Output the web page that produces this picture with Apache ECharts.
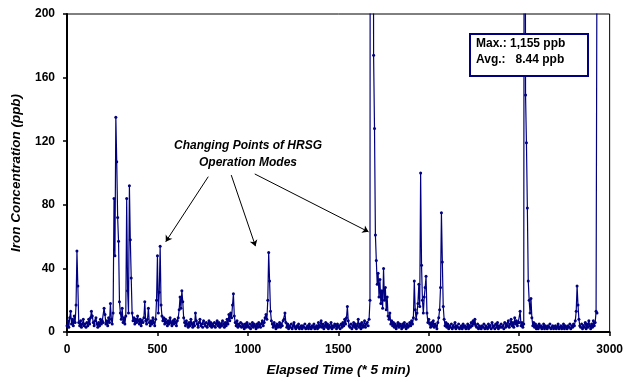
<!DOCTYPE html>
<html>
<head>
<meta charset="utf-8">
<script src="https://cdn.jsdelivr.net/npm/echarts@6/dist/echarts.min.js"></script>
<style>
  html, body { margin: 0; padding: 0; background: #fff; }
  #chart { width: 626px; height: 382px; }
</style>
</head>
<body>
<div id="chart"></div>
<script>
// sampling step of the series along the time axis (units of 5 min)
const timeStep = 5;

// iron concentration (ppb), one value every 5 steps
const ironPpb = [
    4, 7, 3, 9, 13, 5, 8, 4, 10, 6, 17, 51, 29, 6, 4, 7, 3, 5, 8, 4,
    5, 3, 6, 4, 8, 5, 9, 13, 10, 6, 4, 7, 9, 5, 3, 6, 4, 8, 5, 7,
    6, 15, 11, 5, 7, 4, 9, 6, 18, 8, 5, 12, 84, 48, 135, 107, 72, 57, 19, 12,
    8, 15, 6, 9, 5, 10, 84, 26, 12, 92, 58, 34, 12, 7, 9, 5, 8, 6, 10, 7,
    5, 8, 4, 7, 6, 9, 19, 7, 5, 8, 15, 6, 4, 7, 5, 9, 6, 4, 8, 20,
    48, 12, 25, 54, 17, 10, 7, 9, 5, 8, 6, 4, 7, 5, 9, 6, 4, 7, 5, 8,
    6, 4, 7, 9, 14, 22, 15, 26, 19, 9, 6, 4, 7, 5, 3, 6, 4, 8, 5, 3,
    6, 4, 12, 7, 5, 3, 6, 8, 4, 5, 3, 7, 5, 4, 6, 3, 5, 7, 4, 6,
    3, 5, 4, 6, 3, 5, 7, 4, 6, 3, 5, 4, 7, 5, 3, 6, 4, 8, 5, 11,
    7, 12, 9, 17, 24, 10, 6, 4, 7, 3, 5, 4, 6, 3, 5, 4, 2, 5, 3, 6,
    4, 3, 5, 2, 4, 6, 3, 5, 4, 2, 5, 3, 6, 4, 3, 5, 7, 4, 6, 9,
    11, 8, 20, 50, 32, 13, 7, 5, 3, 6, 4, 2, 5, 3, 4, 6, 3, 5, 4, 7,
    8, 12, 6, 3, 5, 2, 4, 3, 5, 2, 4, 6, 3, 2, 4, 3, 5, 2, 3, 4,
    2, 4, 3, 5, 2, 3, 4, 2, 5, 3, 2, 4, 3, 5, 2, 3, 4, 2, 6, 3,
    4, 7, 3, 5, 2, 4, 6, 3, 5, 2, 4, 3, 6, 2, 4, 3, 5, 4, 2, 5,
    3, 4, 2, 5, 3, 6, 4, 8, 5, 9, 16, 7, 4, 3, 5, 2, 4, 6, 3, 5,
    2, 4, 8, 3, 5, 2, 6, 3, 4, 7, 3, 5, 6, 4, 8, 20, 1155, 840, 620, 174,
    128, 61, 45, 30, 37, 22, 33, 18, 26, 15, 40, 20, 28, 14, 22, 10, 8, 12, 5, 7,
    4, 6, 3, 5, 2, 4, 6, 3, 5, 4, 2, 5, 3, 6, 4, 2, 5, 3, 4, 6,
    4, 7, 5, 9, 32, 14, 8, 12, 18, 30, 16, 100, 42, 20, 12, 22, 28, 35, 12, 6,
    8, 5, 3, 6, 4, 7, 3, 5, 4, 2, 6, 9, 14, 28, 75, 44, 16, 8, 4, 6,
    3, 5, 2, 4, 3, 5, 2, 4, 3, 6, 2, 4, 3, 5, 2, 3, 4, 2, 5, 3,
    4, 2, 3, 5, 2, 4, 3, 6, 4, 7, 5, 8, 4, 3, 5, 2, 4, 3, 2, 4,
    3, 5, 2, 4, 3, 2, 5, 3, 4, 2, 6, 3, 4, 2, 5, 3, 6, 2, 4, 3,
    5, 3, 4, 2, 6, 3, 5, 4, 7, 3, 5, 8, 4, 6, 3, 9, 5, 7, 4, 6,
    6, 13, 4, 6, 3, 5, 640, 149, 119, 78, 32, 20, 12, 21, 9, 4, 6, 3, 5, 2,
    4, 2, 5, 3, 4, 2, 3, 5, 2, 4, 3, 2, 4, 3, 5, 2, 3, 4, 2, 3,
    4, 2, 3, 5, 2, 3, 4, 2, 3, 5, 2, 4, 3, 2, 4, 3, 5, 2, 4, 3,
    5, 4, 7, 13, 29, 17, 8, 4, 3, 5, 2, 4, 3, 6, 2, 5, 3, 7, 4, 2,
    5, 3, 7, 4, 6, 13, 12, 480
];

// axis ticks
const xTicks = { min: 0, max: 3000, step: 500 };
const yTicks = { min: 0, max: 200, step: 40 };

// annotation arrows, in data coordinates [time, ppb]
const arrowTails = [[781, 97.7], [908, 98.7], [1038, 99.4]];
const arrowHeads = [[546, 56.8], [1042, 54], [1667, 63]];

const statsLines = ['Max.: 1,155 ppb', 'Avg.:   8.44 ppb'];
const noteLines = ['Changing Points of HRSG', 'Operation Modes'];

const seriesData = ironPpb.map((v, i) => [i * timeStep, v]);
const fontFamily = '"Liberation Sans", Arial, sans-serif';

const arrowData = arrowTails.map((t, i) => [{ coord: t }, { coord: arrowHeads[i] }]);

const chart = echarts.init(document.getElementById('chart'));
chart.setOption({
    animation: false,
    backgroundColor: '#fff',
    grid: {
        left: 67,
        right: 15,
        top: 14,
        bottom: 50,
        show: true,
        borderColor: '#000',
        borderWidth: 1,
        backgroundColor: 'transparent'
    },
    xAxis: {
        type: 'value',
        min: xTicks.min,
        max: xTicks.max,
        interval: xTicks.step,
        name: 'Elapsed Time (* 5 min)',
        nameLocation: 'middle',
        nameGap: 31,
        nameTextStyle: {
            fontFamily: fontFamily,
            fontSize: 13.5,
            fontWeight: 'bold',
            fontStyle: 'italic',
            color: '#000'
        },
        axisLine: { lineStyle: { color: '#000', width: 2 } },
        axisTick: { show: true, length: 4, lineStyle: { color: '#000', width: 1.5 } },
        axisLabel: {
            margin: 12,
            fontFamily: fontFamily,
            fontSize: 12,
            fontWeight: 'bold',
            color: '#000',
            formatter: (v) => String(v)
        },
        splitLine: { show: false }
    },
    yAxis: {
        type: 'value',
        min: yTicks.min,
        max: yTicks.max,
        interval: yTicks.step,
        name: 'Iron Concentration (ppb)',
        nameLocation: 'middle',
        nameGap: 44,
        nameTextStyle: {
            fontFamily: fontFamily,
            fontSize: 13.5,
            fontWeight: 'bold',
            fontStyle: 'italic',
            color: '#000'
        },
        axisLine: { show: true, lineStyle: { color: '#000', width: 2 } },
        axisTick: { show: true, length: 4, lineStyle: { color: '#000', width: 1.5 } },
        axisLabel: {
            margin: 12,
            fontFamily: fontFamily,
            fontSize: 12,
            fontWeight: 'bold',
            color: '#000'
        },
        splitLine: { show: false }
    },
    series: [{
        type: 'line',
        data: seriesData,
        clip: true,
        symbol: 'circle',
        symbolSize: 3,
        showAllSymbol: true,
        sampling: null,
        lineStyle: { color: '#000080', width: 1.2 },
        itemStyle: { color: '#000080' },
        emphasis: { disabled: true },
        markLine: {
            silent: true,
            symbol: ['none', 'arrow'],
            symbolSize: 6,
            label: { show: false },
            lineStyle: { color: '#000', width: 1, type: 'solid' },
            itemStyle: { color: '#000' },
            emphasis: { disabled: true },
            data: arrowData
        }
    }],
    graphic: [
        {
            type: 'rect',
            shape: { x: 470, y: 34, width: 118, height: 42 },
            style: { fill: '#fff', stroke: '#000080', lineWidth: 2 },
            z: 100
        },
        {
            type: 'text',
            x: 476,
            y: 36,
            style: {
                text: statsLines.join('\n'),
                fontFamily: fontFamily,
                fontSize: 12,
                fontWeight: 'bold',
                lineHeight: 16,
                fill: '#000'
            },
            z: 101
        },
        {
            type: 'text',
            x: 248,
            y: 137,
            style: {
                text: noteLines.join('\n'),
                fontFamily: fontFamily,
                fontSize: 12,
                fontWeight: 'bold',
                fontStyle: 'italic',
                lineHeight: 17,
                align: 'center',
                fill: '#000'
            },
            z: 101
        }
    ]
});
</script>
</body>
</html>
